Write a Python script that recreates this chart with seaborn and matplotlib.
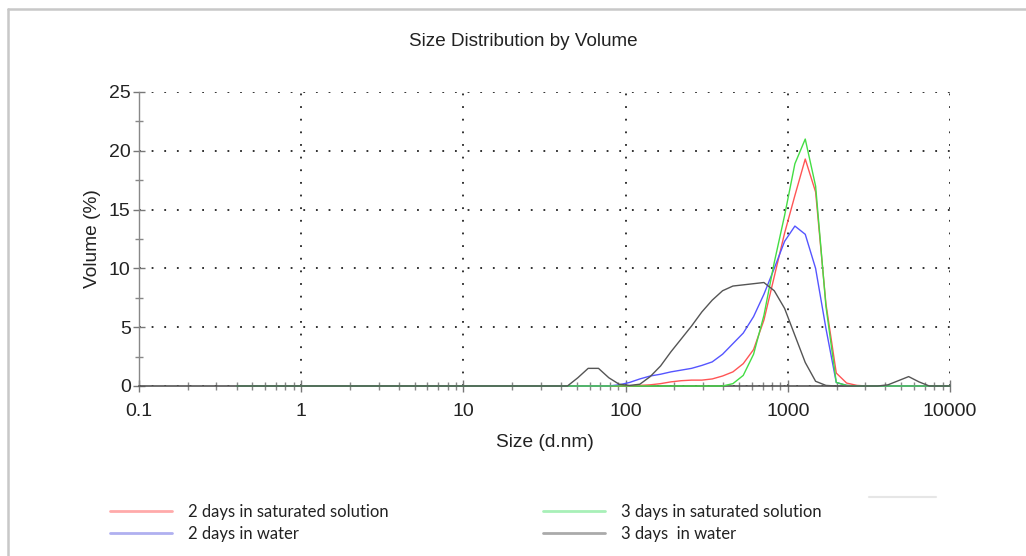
import numpy as np
import pandas as pd
import matplotlib
matplotlib.use("Agg")
import matplotlib.pyplot as plt
from matplotlib.lines import Line2D
from matplotlib.ticker import FixedLocator, FixedFormatter, LogLocator, MultipleLocator, NullFormatter
import seaborn as sns

# ---------------- data ----------------
sizes = [0.4, 0.4632, 0.5365, 0.6213, 0.7195, 0.8332, 0.9649, 1.117, 1.294, 1.499,
         1.736, 2.010, 2.328, 2.696, 3.122, 3.615, 4.187, 4.849, 5.615, 6.503,
         7.531, 8.721, 10.10, 11.70, 13.54, 15.69, 18.17, 21.04, 24.36, 28.21,
         32.67, 37.84, 43.82, 50.75, 58.77, 68.06, 78.82, 91.28, 105.7, 122.4,
         141.8, 164.2, 190.1, 220.2, 255.0, 295.3, 342.0, 396.1, 458.7, 531.2,
         615.1, 712.4, 825.0, 955.4, 1106, 1281, 1484, 1718, 1990, 2305,
         2669, 3091, 3580, 4145, 4801, 5560, 6439, 7456, 8635, 10000]

sat_2days = [0, 0, 0, 0, 0, 0, 0, 0, 0, 0,
             0, 0, 0, 0, 0, 0, 0, 0, 0, 0,
             0, 0, 0, 0, 0, 0, 0, 0, 0, 0,
             0, 0, 0, 0, 0, 0, 0, 0, 0, 0.05,
             0.1, 0.2, 0.35, 0.45, 0.5, 0.5, 0.6, 0.85, 1.2, 1.9,
             3.1, 5.6, 9.3, 13.0, 16.2, 19.3, 16.5, 7.0, 1.1, 0.25,
             0.05, 0, 0, 0, 0, 0, 0, 0, 0, 0]

water_2days = [0, 0, 0, 0, 0, 0, 0, 0, 0, 0,
               0, 0, 0, 0, 0, 0, 0, 0, 0, 0,
               0, 0, 0, 0, 0, 0, 0, 0, 0, 0,
               0, 0, 0, 0, 0, 0, 0, 0.1, 0.3, 0.6,
               0.85, 1.0, 1.2, 1.35, 1.5, 1.75, 2.05, 2.7, 3.6, 4.5,
               5.9, 7.8, 10.0, 12.3, 13.6, 12.9, 10.0, 4.9, 0.3, 0.05,
               0, 0, 0, 0, 0, 0, 0, 0, 0, 0]

sat_3days = [0, 0, 0, 0, 0, 0, 0, 0, 0, 0,
             0, 0, 0, 0, 0, 0, 0, 0, 0, 0,
             0, 0, 0, 0, 0, 0, 0, 0, 0, 0,
             0, 0, 0, 0, 0, 0, 0, 0, 0, 0,
             0, 0, 0, 0, 0, 0, 0, 0, 0.2, 0.9,
             2.7, 6.0, 10.5, 14.5, 18.9, 21.0, 17.0, 6.8, 0.3, 0.05,
             0, 0, 0, 0, 0, 0, 0, 0, 0, 0]

water_3days = [0, 0, 0, 0, 0, 0, 0, 0, 0, 0,
               0, 0, 0, 0, 0, 0, 0, 0, 0, 0,
               0, 0, 0, 0, 0, 0, 0, 0, 0, 0,
               0, 0, 0, 0.7, 1.5, 1.5, 0.7, 0.15, 0.05, 0.15,
               0.8, 1.7, 2.9, 4.0, 5.1, 6.3, 7.3, 8.1, 8.5, 8.6,
               8.7, 8.8, 8.1, 6.6, 4.3, 2.0, 0.4, 0.05, 0, 0,
               0, 0, 0, 0.1, 0.45, 0.8, 0.35, 0, 0, 0]

series_labels = ["2 days in saturated solution", "2 days in water",
                 "3 days in saturated solution", "3 days  in water"]
series_values = [sat_2days, water_2days, sat_3days, water_3days]
line_colors = ["#ff5555", "#5555ff", "#44dd44", "#555555"]
legend_colors = ["#ffaaaa", "#b0b0f0", "#a8f0b8", "#aaaaaa"]

x_ticks = [0.1, 1, 10, 100, 1000, 10000]
x_tick_labels = ["0.1", "1", "10", "100", "1000", "10000"]
y_ticks = [0, 5, 10, 15, 20, 25]
y_tick_labels = ["0", "5", "10", "15", "20", "25"]

title = "Size Distribution by Volume"
x_label = "Size (d.nm)"
y_label = "Volume (%)"

# ---------------- figure ----------------
sns.set_style("white")
plt.rcParams["font.family"] = ["Liberation Sans", "DejaVu Sans"]

W, H = 1026, 556
fig = plt.figure(figsize=(W / 100, H / 100), dpi=100)
ax = fig.add_axes([139 / W, (H - 386) / H, (950 - 139) / W, (386 - 92) / H])

df = pd.concat([pd.DataFrame({"size": sizes, "volume": v, "series": lab})
                for lab, v in zip(series_labels, series_values)], ignore_index=True)

sns.lineplot(data=df, x="size", y="volume", hue="series", hue_order=series_labels,
             palette=dict(zip(series_labels, line_colors)), estimator=None, sort=False,
             linewidth=1.0, legend=False, ax=ax, clip_on=False, zorder=3)

ax.set_xscale("log")
ax.set_xlim(0.1, 10000)
ax.set_ylim(0, 25)

ax.xaxis.set_major_locator(FixedLocator(x_ticks))
ax.xaxis.set_major_formatter(FixedFormatter(x_tick_labels))
ax.xaxis.set_minor_locator(LogLocator(base=10, subs=np.arange(2, 10)))
ax.xaxis.set_minor_formatter(NullFormatter())
ax.yaxis.set_major_locator(FixedLocator(y_ticks))
ax.yaxis.set_major_formatter(FixedFormatter(y_tick_labels))
ax.yaxis.set_minor_locator(MultipleLocator(2.5))

ax.tick_params(axis="both", which="both", bottom=True, left=True, top=False, right=False)
ax.tick_params(axis="both", which="major", direction="inout", length=8, width=1,
               color="#777777", labelsize=14, labelcolor="#222222")
ax.tick_params(axis="both", which="minor", direction="inout", length=6, width=1,
               color="#888888")
ax.tick_params(axis="x", which="major", pad=8)
ax.tick_params(axis="y", which="major", pad=2)

for s in ["top", "right"]:
    ax.spines[s].set_visible(False)
ax.spines["left"].set_color("#888888")
ax.spines["bottom"].set_color("#555555")
ax.spines["left"].set_linewidth(1.0)
ax.spines["bottom"].set_linewidth(1.2)

ax.grid(True, which="major", color="#222222", linestyle=(0, (1, 6)), linewidth=1.3)
ax.grid(False, which="minor")
ax.set_axisbelow(True)

ax.set_xlabel(x_label, fontsize=13.8, color="#222222", labelpad=10)
ax.set_ylabel(y_label, fontsize=13.8, color="#222222", labelpad=6)
fig.text(523 / W, 1 - 42 / H, title, ha="center", va="center", fontsize=13.6, color="#222222")

# legend (two columns)
handles = [Line2D([], [], color=c, linewidth=2) for c in legend_colors]
leg_kw = dict(frameon=False, handlelength=3.7, handletextpad=1.0,
              labelspacing=0.33, borderaxespad=0, borderpad=0,
              prop={"family": ["Lato", "DejaVu Sans"], "size": 12})
leg1 = fig.legend(handles[:2], series_labels[:2], loc="upper left",
                  bbox_to_anchor=(110 / W, 1 - 504 / H), **leg_kw)
leg2 = fig.legend(handles[2:], series_labels[2:], loc="upper left",
                  bbox_to_anchor=(543 / W, 1 - 504 / H), **leg_kw)
for leg in (leg1, leg2):
    for t in leg.get_texts():
        t.set_color("#222222")

# decorative frame and stray legend stub
fig.add_artist(Line2D([8 / W, 1.0], [1 - 9 / H, 1 - 9 / H], color="#c8c8c8", linewidth=1.8))
fig.add_artist(Line2D([8 / W, 8 / W], [0, 1 - 9 / H], color="#c8c8c8", linewidth=1.8))
fig.add_artist(Line2D([869 / W, 936 / W], [1 - 497 / H, 1 - 497 / H], color="#e6e6e6", linewidth=1.5))

fig.savefig("out.png", dpi=100, facecolor="white")
